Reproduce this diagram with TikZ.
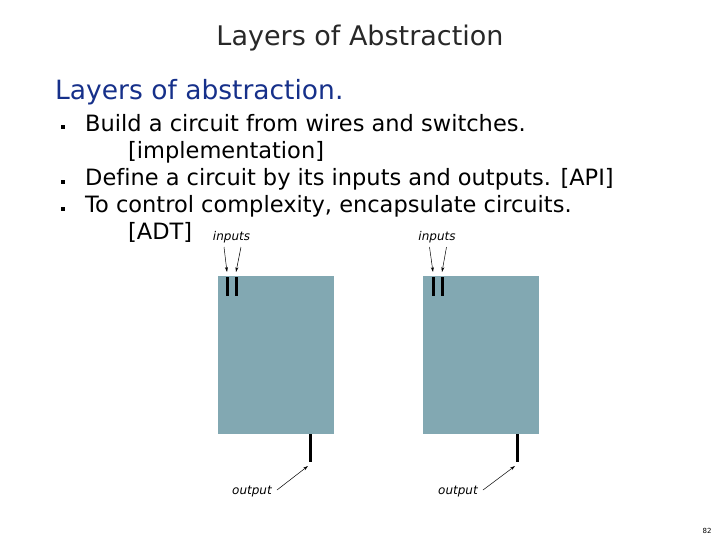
\documentclass[tikz,border=0pt]{standalone}
\usepackage{fontspec}
\setmainfont[Ligatures=NoCommon]{DejaVu Sans}
\usetikzlibrary{arrows.meta}
\definecolor{boxfill}{RGB}{130,168,178}
\definecolor{navy}{RGB}{22,48,138}
\definecolor{titlegray}{RGB}{40,40,40}
\begin{document}
\begin{tikzpicture}[x=1pt,y=-1pt,
  bodytext/.style={anchor=base west,inner sep=0pt,font=\fontsize{22.5}{26}\selectfont},
  bulletsq/.style={fill=black,minimum size=3.5pt,inner sep=0pt},
  circuit/.style={fill=boxfill,draw=none,inner sep=0pt,minimum width=116pt,minimum height=158pt},
  wire/.style={line width=3pt},
  lbl/.style={inner sep=0pt,font=\fontsize{12}{14}\selectfont\itshape},
  pointer/.style={line width=0.5pt,-{Stealth[length=5pt,width=3pt]}}]
\useasboundingbox (0,0) rectangle (720,540);
\node[anchor=base,inner sep=0pt,font=\fontsize{27}{30}\selectfont,text=titlegray] (title) at (360,46) {Layers of Abstraction};
\node[anchor=base west,inner sep=0pt,font=\fontsize{26.5}{30}\selectfont,text=navy] (sub) at (55,100) {Layers of abstraction.};
\node[bulletsq] (b1) at (63,127) {};
\node[bodytext] (t1) at (85,132) {Build a circuit from wires and switches.};
\node[bodytext] (t1b) at (128,159) {[implementation]};
\node[bulletsq] (b2) at (63,182) {};
\node[bodytext] (t2) at (85,186) {Define a circuit by its inputs and outputs. [API]};
\node[bulletsq] (b3) at (63,209) {};
\node[bodytext] (t3) at (85,213) {To control complexity, encapsulate circuits.};
\node[bodytext] (t3b) at (128,240) {[ADT]};
% circuits
\node[circuit,anchor=north west] (c1) at (218,276) {};
\node[circuit,anchor=north west] (c2) at (423,276) {};
% left circuit wires
\coordinate (l1a) at (227,277); \coordinate (l1b) at (227,296);
\coordinate (l2a) at (236,277); \coordinate (l2b) at (236,296);
\draw[wire] (l1a) -- (l1b);
\draw[wire] (l2a) -- (l2b);
\coordinate (lo1) at (310,434); \coordinate (lo2) at (310,462);
\draw[wire] (lo1) -- (lo2);
\node[lbl] (in1) at (231.5,237) {inputs};
\coordinate (p1) at (227,272); \coordinate (p2) at (236,272);
\draw[pointer] (in1.south) ++(-7.5,4) coordinate (s1) -- (p1);
\draw[pointer] (in1.south) ++(9.5,4) coordinate (s2) -- (p2);
\node[lbl] (out1) at (252,492) {output};
\coordinate (q1) at (308,466);
\draw[pointer] (out1.east) ++(5,-2) coordinate (s3) -- (q1);
% right circuit wires
\coordinate (r1a) at (433,277); \coordinate (r1b) at (433,296);
\coordinate (r2a) at (442,277); \coordinate (r2b) at (442,296);
\draw[wire] (r1a) -- (r1b);
\draw[wire] (r2a) -- (r2b);
\coordinate (ro1) at (517,434); \coordinate (ro2) at (517,462);
\draw[wire] (ro1) -- (ro2);
\node[lbl] (in2) at (437,237) {inputs};
\coordinate (p3) at (433,272); \coordinate (p4) at (442,272);
\draw[pointer] (in2.south) ++(-7.5,4) coordinate (s4) -- (p3);
\draw[pointer] (in2.south) ++(9.5,4) coordinate (s5) -- (p4);
\node[lbl] (out2) at (458,492) {output};
\coordinate (q2) at (515,466);
\draw[pointer] (out2.east) ++(5,-2) coordinate (s6) -- (q2);
\node[inner sep=0pt,font=\fontsize{7}{8}\selectfont] (pg) at (707,531) {82};
\end{tikzpicture}
\end{document}
